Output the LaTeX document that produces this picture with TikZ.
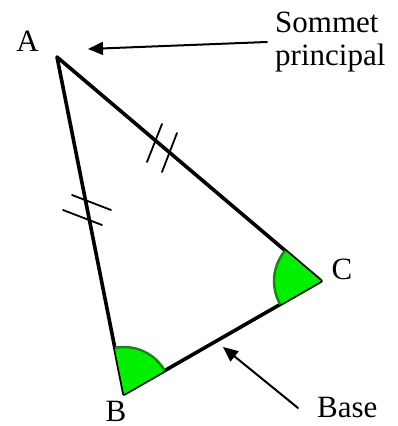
\documentclass[tikz,border=0pt]{standalone}
\usepackage{fontspec}
\setmainfont{Liberation Serif}
\usepackage{tikz}
\usetikzlibrary{arrows.meta,angles}
\definecolor{anglefill}{HTML}{00F000}
\definecolor{anglerim}{HTML}{108A10}
\tikzset{
  every picture/.style={
    line join=round,
    line cap=round,
    >={Triangle[length=15pt,width=13pt]},
  },
  side/.style={line width=3.6pt},
  tickmark/.style={line width=1.8pt},
  pointer/.style={line width=2pt,->},
  vertexlabel/.style={anchor=base,inner sep=0pt},
  anglemark/.style={fill=anglefill,draw=anglerim,line width=2.4pt,line cap=butt,angle radius=47pt},
}

\begin{document}
\begin{tikzpicture}[x=1pt,y=1pt,font=\fontsize{31}{33}\selectfont]
\useasboundingbox (0,0) rectangle (397,426);
\coordinate (A) at (57,369);
\coordinate (B) at (124,32);
\coordinate (C) at (321,145);
\draw[side] (A) -- (B) -- (C) -- cycle;
% equal sides
\draw[tickmark] (147,264) -- (162,302);
\draw[tickmark] (162,254) -- (177,293);
\draw[tickmark] (72,231) -- (111,216);
\draw[tickmark] (63,216) -- (102,201);
% base angles
\pic[anglemark] {angle=C--B--A};
\pic[anglemark] {angle=A--C--B};
\node[vertexlabel] (labA) at (27.5,374) {A};
\node[vertexlabel] (labB) at (116,5) {B};
\node[vertexlabel] (labC) at (342,146) {C};
\node[anchor=west,align=left,inner xsep=8pt,inner ysep=0pt] (sommet) at (267,384) {Sommet\\principal};
\node[anchor=west,inner xsep=19pt,inner ysep=0pt] (base) at (298,18) {Base};
\coordinate (apex) at (88,377);
\coordinate (mid) at (223,79);
\draw[pointer] (sommet.west) -- (apex);
\draw[pointer] (base.west) -- (mid);
\end{tikzpicture}
\end{document}
